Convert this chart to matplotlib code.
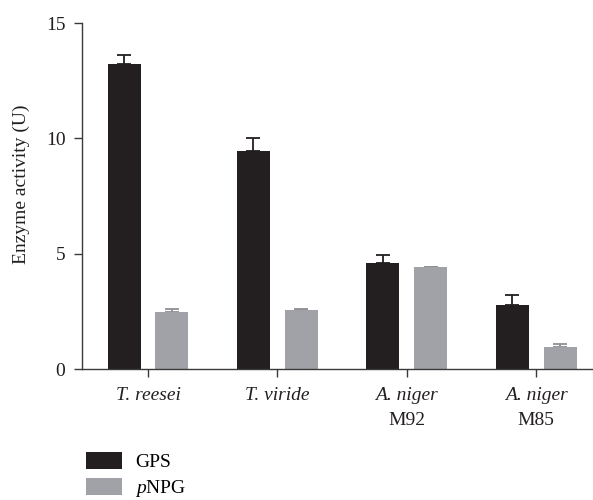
import matplotlib
matplotlib.use("Agg")
import matplotlib.pyplot as plt
import numpy as np
from matplotlib.patches import Patch

plt.rcParams["font.family"] = ["Liberation Serif", "DejaVu Serif"]
plt.rcParams["font.size"] = 14
plt.rcParams["mathtext.fontset"] = "custom"
plt.rcParams["mathtext.rm"] = "Liberation Serif"
plt.rcParams["mathtext.it"] = "Liberation Serif:italic"

# enzyme activity per strain and substrate
strains = ["T. reesei", "T. viride", "A. niger", "A. niger"]
strain_suffix = ["", "", "M92", "M85"]
gps = [13.22, 9.45, 4.61, 2.77]
gps_err = [0.38, 0.55, 0.33, 0.43]
pnpg = [2.46, 2.56, 4.41, 0.94]
pnpg_err = [0.15, 0.04, 0.0, 0.14]

BLACK = "#231f20"
GRAY = "#a0a2a8"
SPINE = "#3a3a3a"
TEXT = "#231f20"

fig = plt.figure(figsize=(5.93, 5.0), dpi=100)
ax = fig.add_axes([0.1383, 0.262, 0.8617, 0.692])

x = np.arange(len(strains))
width = 0.255
offset = 0.185

ax.bar(x - offset, gps, width, color=BLACK, zorder=2)
ax.bar(x + offset, pnpg, width, color=GRAY, zorder=2)

# upward-only error bars
ax.errorbar(x - offset, gps, yerr=[np.zeros(len(gps)), gps_err], fmt="none",
            ecolor=BLACK, elinewidth=1.3, capsize=4.7, capthick=1.3, zorder=1)
ax.errorbar(x + offset, pnpg, yerr=[np.zeros(len(pnpg)), pnpg_err], fmt="none",
            ecolor="#8e9096", elinewidth=1.3, capsize=4.7, capthick=1.3, zorder=1)

ax.set_xlim(-0.51, 3.44)
ax.set_ylim(0, 15)
ax.set_yticks([0, 5, 10, 15])
ax.set_xticks(x)
ax.set_xticklabels([])

for side in ("top", "right"):
    ax.spines[side].set_visible(False)
for side in ("left", "bottom"):
    ax.spines[side].set_color(SPINE)
    ax.spines[side].set_linewidth(1.0)
ax.tick_params(axis="both", direction="out", length=6, width=1.0, color=SPINE,
               labelsize=14, labelcolor=TEXT)
ax.tick_params(axis="y", pad=6)

# two-line category labels: italic species, upright strain code
trans = ax.get_xaxis_transform()
for xi, name, suffix in zip(x, strains, strain_suffix):
    ax.text(xi, -0.078, name, style="italic", ha="center", va="center",
            transform=trans, fontsize=14, color=TEXT)
    if suffix:
        ax.text(xi, -0.149, suffix, ha="center", va="center",
                transform=trans, fontsize=14, color=TEXT)

fig.text(0.036, 0.632, "Enzyme activity (U)", rotation=90, ha="center",
         va="center", fontsize=14, color=TEXT)

handles = [Patch(facecolor=BLACK), Patch(facecolor=GRAY)]
fig.legend(handles, ["GPS", "$p$NPG"], loc="upper left",
           bbox_to_anchor=(0.128, 0.116), frameon=False, borderpad=0,
           handlelength=1.85, handleheight=1.0, handletextpad=0.7,
           labelspacing=0.35, fontsize=14)

fig.savefig("out.png", dpi=100)
